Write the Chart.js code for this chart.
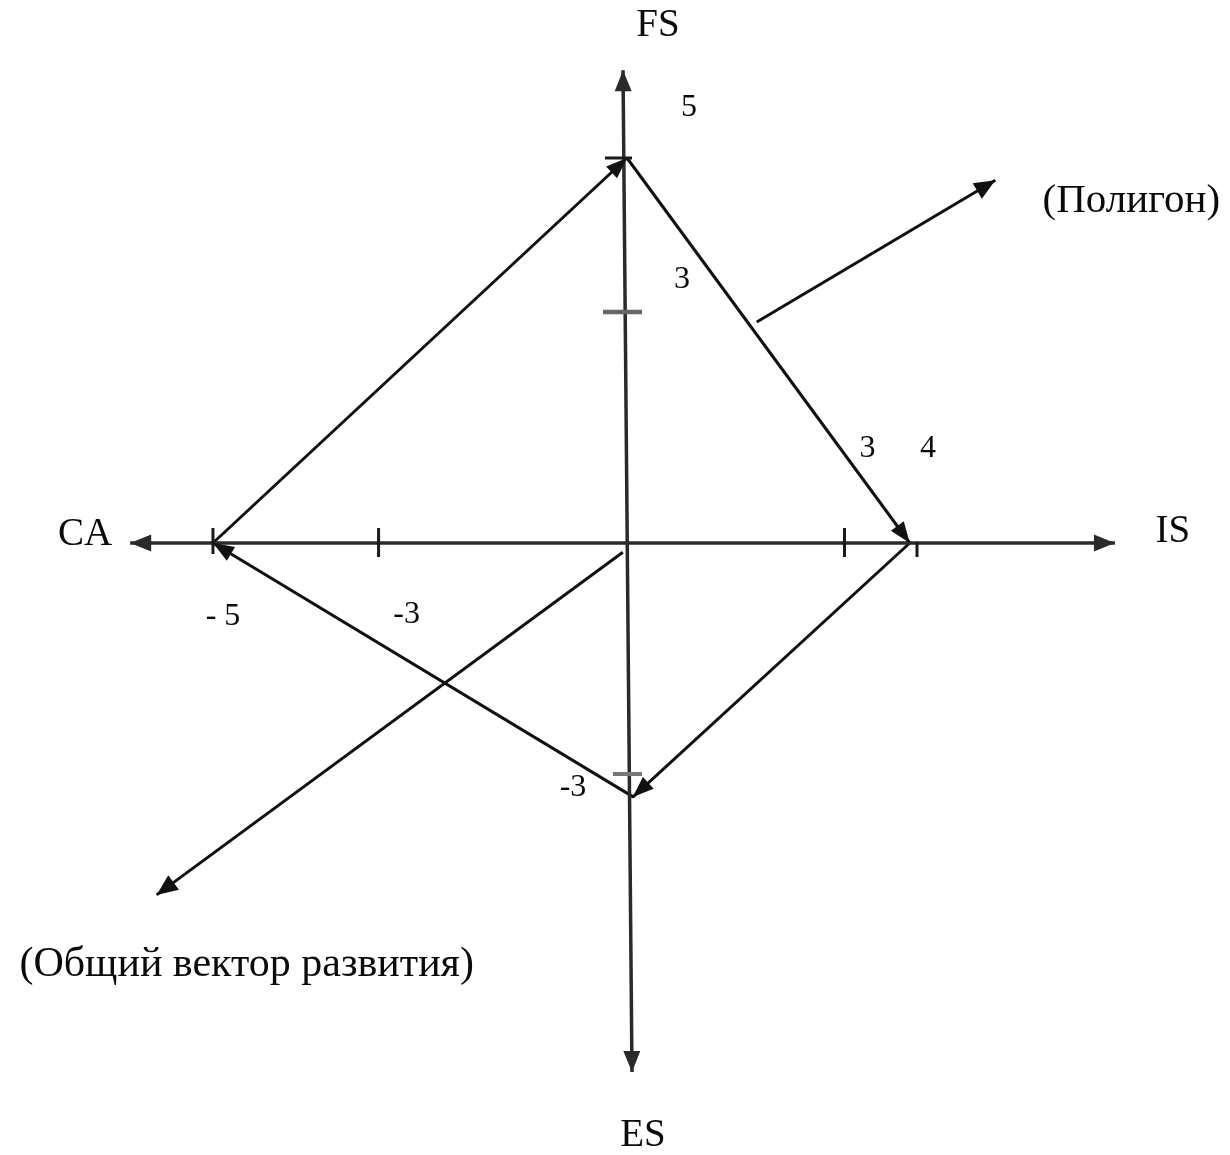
<!DOCTYPE html>
<html>
<head>
<meta charset="utf-8">
<script src="https://cdn.jsdelivr.net/npm/chart.js@4"></script>
<style>
  html, body { margin: 0; padding: 0; background: #ffffff; }
  #wrap { width: 1230px; height: 1155px; }
</style>
</head>
<body>
<div id="wrap"><canvas id="c" width="1230" height="1155"></canvas></div>
<script>
// ---------------- data ----------------
const axisNames = ['FS', 'IS', 'ES', 'CA'];
// polygon vertices in order FS, IS, ES, CA
const vertexX = [0, 3.9, 0.08, -5];
const vertexY = [5, 0, -3.3, 0];
const xTickValues = [-5, -3, 3, 4];
const xTickLabels = ['- 5', '-3', '3', '4'];
const yTickValues = [5, 3, -3];
const yTickLabels = ['5', '3', '-3'];
// axis line ends
const xAxisEnds = [-6.0, 6.73];
const yAxisEndsY = [6.14, -6.87];
const yAxisEndsX = [-0.055, 0.069];
// "general development vector" arrow
const generalVectorX = [-0.05, -5.68];
const generalVectorY = [-0.12, -4.57];
// pointer to the polygon
const polygonPointerX = [1.79, 5.08];
const polygonPointerY = [2.87, 4.71];
const annotationTexts = ['(Полигон)', '(Общий вектор развития)'];

// ---------------- styles / layout ----------------
const INK = '#111111';
const AXIS = '#2a2a2a';
const SERIF = '"Liberation Serif", "DejaVu Serif", serif';

function seg(x0, y0, x1, y1, axisId, color, width, arrowEnd, arrowStart, head) {
  return {
    data: [{x: x0, y: y0}, {x: x1, y: y1}],
    xAxisID: axisId, yAxisID: 'y',
    showLine: true, pointRadius: 0, pointHoverRadius: 0,
    borderColor: color, backgroundColor: color, borderWidth: width,
    arrowEnd: arrowEnd, arrowStart: arrowStart, head: head
  };
}

const FS = 0, IS = 1, ES = 2, CA = 3;
const datasets = [
  // axes
  seg(xAxisEnds[0], 0, 0, 0, 'xl', AXIS, 3.5, false, true, [21, 8.5]),
  seg(0, 0, xAxisEnds[1], 0, 'xr', AXIS, 3.5, true, false, [21, 8.5]),
  seg(yAxisEndsX[0], yAxisEndsY[0], yAxisEndsX[1], yAxisEndsY[1], 'xr', AXIS, 3.5, true, true, [21, 8.5]),
  // polygon edges CA->FS, FS->IS, IS->ES, ES->CA
  seg(vertexX[CA], vertexY[CA], vertexX[FS], vertexY[FS], 'xl', INK, 3, true, false, [21, 8]),
  seg(vertexX[FS], vertexY[FS], vertexX[IS], vertexY[IS], 'xr', INK, 3, true, false, [21, 8]),
  seg(vertexX[IS], vertexY[IS], vertexX[ES], vertexY[ES], 'xr', INK, 3, true, false, [21, 8]),
  seg(vertexX[ES], vertexY[ES], vertexX[CA], vertexY[CA], 'xl', INK, 3, true, false, [21, 8]),
  // annotation arrows
  seg(generalVectorX[0], generalVectorY[0], generalVectorX[1], generalVectorY[1], 'xl', INK, 3, true, false, [21, 9]),
  seg(polygonPointerX[0], polygonPointerY[0], polygonPointerX[1], polygonPointerY[1], 'xr', INK, 3, true, false, [21, 9])
];

// pixel offsets of texts relative to their anchors
const xTickLabelOffsets = [[10, 74], [28, 72], [23, -94], [11, -94]];
const yTickLabelOffsets = [[62, -50], [55, -32], [-54, 14]];
const xTickSpans = [[-15, 11], [-15, 14], [-15, 14], [-1, 14]];
const yTickSpans = [[-22, 5, 3, '#1a1a1a'], [-24, 15, 4.5, '#666666'], [-14, 15, 4, '#777777']];

function arrowHead(ctx, x, y, fromX, fromY, len, half, color) {
  const a = Math.atan2(y - fromY, x - fromX);
  ctx.save();
  ctx.fillStyle = color;
  ctx.beginPath();
  ctx.moveTo(x, y);
  ctx.lineTo(x - len * Math.cos(a) + half * Math.sin(a), y - len * Math.sin(a) - half * Math.cos(a));
  ctx.lineTo(x - len * Math.cos(a) - half * Math.sin(a), y - len * Math.sin(a) + half * Math.cos(a));
  ctx.closePath();
  ctx.fill();
  ctx.restore();
}

const decor = {
  id: 'decor',
  afterDatasetsDraw(chart) {
    const ctx = chart.ctx;
    const xl = chart.scales.xl, xr = chart.scales.xr, y = chart.scales.y;
    // arrowheads
    chart.data.datasets.forEach((ds, i) => {
      const pts = chart.getDatasetMeta(i).data;
      const p0 = pts[0], p1 = pts[1];
      if (ds.arrowEnd) arrowHead(ctx, p1.x, p1.y, p0.x, p0.y, ds.head[0], ds.head[1], ds.borderColor);
      if (ds.arrowStart) arrowHead(ctx, p0.x, p0.y, p1.x, p1.y, ds.head[0], ds.head[1], ds.borderColor);
    });
    const y0 = y.getPixelForValue(0);
    const xPix = v => (v < 0 ? xl : xr).getPixelForValue(v);
    // x ticks
    ctx.save();
    ctx.strokeStyle = '#1a1a1a';
    ctx.lineWidth = 3;
    xTickValues.forEach((v, i) => {
      const px = xPix(v);
      ctx.beginPath();
      ctx.moveTo(px, y0 + xTickSpans[i][0]);
      ctx.lineTo(px, y0 + xTickSpans[i][1]);
      ctx.stroke();
    });
    // y ticks
    const x0 = xr.getPixelForValue(0);
    yTickValues.forEach((v, i) => {
      const py = y.getPixelForValue(v);
      const s = yTickSpans[i];
      ctx.strokeStyle = s[3];
      ctx.lineWidth = s[2];
      ctx.beginPath();
      ctx.moveTo(x0 + s[0], py);
      ctx.lineTo(x0 + s[1], py);
      ctx.stroke();
    });
    // tick labels
    ctx.fillStyle = '#0a0a0a';
    ctx.textAlign = 'center';
    ctx.textBaseline = 'middle';
    ctx.font = '32px ' + SERIF;
    xTickValues.forEach((v, i) => {
      ctx.fillText(xTickLabels[i], xPix(v) + xTickLabelOffsets[i][0], y0 + xTickLabelOffsets[i][1]);
    });
    yTickValues.forEach((v, i) => {
      ctx.fillText(yTickLabels[i], x0 + yTickLabelOffsets[i][0], y.getPixelForValue(v) + yTickLabelOffsets[i][1]);
    });
    // axis names
    ctx.font = '39px ' + SERIF;
    const top = [xr.getPixelForValue(yAxisEndsX[0]), y.getPixelForValue(yAxisEndsY[0])];
    const bottom = [xr.getPixelForValue(yAxisEndsX[1]), y.getPixelForValue(yAxisEndsY[1])];
    const right = [xr.getPixelForValue(xAxisEnds[1]), y0];
    const left = [xl.getPixelForValue(xAxisEnds[0]), y0];
    ctx.fillText(axisNames[0], top[0] + 35, top[1] - 44);
    ctx.fillText(axisNames[1], right[0] + 58, right[1] - 11);
    ctx.fillText(axisNames[2], bottom[0] + 11, bottom[1] + 64);
    ctx.fillText(axisNames[3], left[0] - 45, left[1] - 8);
    // annotation texts next to arrow tips
    ctx.font = '41px ' + SERIF;
    const pTip = [xr.getPixelForValue(polygonPointerX[1]), y.getPixelForValue(polygonPointerY[1])];
    ctx.fillText(annotationTexts[0], pTip[0] + 136, pTip[1] + 21);
    ctx.font = '42px ' + SERIF;
    const gTip = [xl.getPixelForValue(generalVectorX[1]), y.getPixelForValue(generalVectorY[1])];
    ctx.fillText(annotationTexts[1], gTip[0] + 90, gTip[1] + 70);
    ctx.restore();
  }
};

new Chart(document.getElementById('c'), {
  type: 'scatter',
  data: { datasets: datasets },
  options: {
    responsive: false,
    devicePixelRatio: 1,
    animation: false,
    layout: { padding: 0 },
    plugins: { legend: { display: false }, tooltip: { enabled: false } },
    elements: { line: { tension: 0, borderCapStyle: 'butt' } },
    scales: {
      xl: { type: 'linear', axis: 'x', position: 'bottom', display: false, min: -7.572, max: 7.283 },
      xr: { type: 'linear', axis: 'x', position: 'bottom', display: false, min: -8.648, max: 8.317 },
      y:  { type: 'linear', display: false, min: -7.948, max: 7.052 }
    }
  },
  plugins: [decor]
});
</script>
</body>
</html>
